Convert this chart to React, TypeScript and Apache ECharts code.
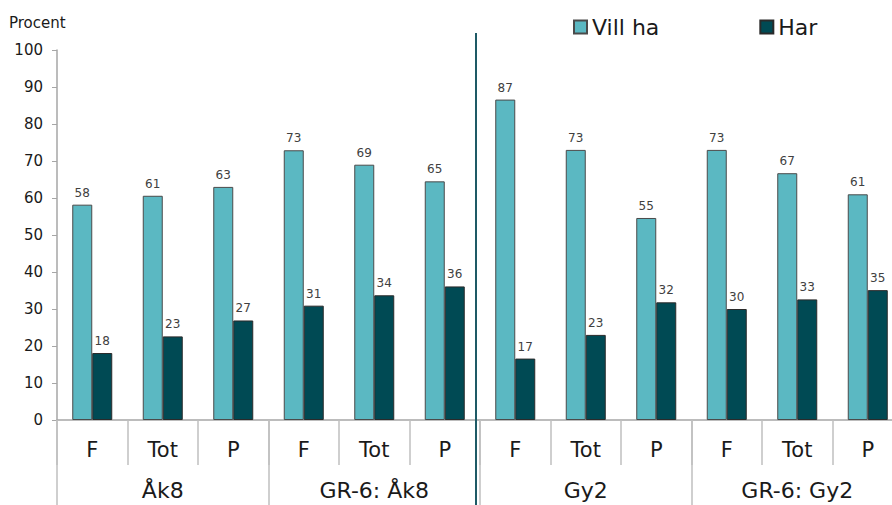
import React, { useEffect, useRef } from "react";
import * as echarts from "echarts";

const categories = ["F", "Tot", "P", "F", "Tot", "P", "F", "Tot", "P", "F", "Tot", "P"];
const groups = ["Åk8", "GR-6: Åk8", "Gy2", "GR-6: Gy2"];
const villHa = [58.2, 60.6, 63, 72.9, 69, 64.5, 86.6, 73, 54.6, 73, 66.7, 61];
const har = [18.1, 22.6, 26.9, 30.9, 33.7, 36.1, 16.6, 23, 31.8, 30, 32.6, 35.1];
const seriesNames = ["Vill ha", "Har"];
const yTicks = { min: 0, max: 100, interval: 10 };

const FONT = "'DejaVu Sans', Verdana, sans-serif";

export default function App() {
  const ref = useRef<HTMLDivElement>(null);
  useEffect(() => {
    if (!ref.current) return;
    const chart = echarts.init(ref.current, undefined, { renderer: "svg" });
    const labelStyle = {
      show: true,
      position: "top" as const,
      fontSize: 12,
      color: "#404040",
      fontFamily: FONT,
      distance: 6,
      formatter: (p: any) => Math.round(p.value).toString(),
    };
    chart.setOption({
      animation: false,
      textStyle: { fontFamily: FONT },
      title: {
        text: "Procent",
        left: 9,
        top: 15,
        padding: 0,
        textStyle: { fontSize: 15, fontWeight: "normal", color: "#1a1a1a", fontFamily: FONT },
      },
      legend: {
        data: seriesNames,
        left: 568,
        top: 11,
        itemWidth: 13,
        itemHeight: 13,
        itemGap: 100,
        icon: "rect",
        textStyle: { fontSize: 22, color: "#1a1a1a", fontFamily: FONT },
      },
      grid: { left: 57, top: 50, bottom: 85, right: 0, containLabel: false },
      xAxis: [
        {
          type: "category",
          data: categories,
          position: "bottom",
          axisLine: { show: true, lineStyle: { color: "#A6A6A6", width: 1.5 } },
          axisTick: { show: true, length: 45, interval: 0, lineStyle: { color: "#BFBFBF", width: 1.5 } },
          axisLabel: { interval: 0, margin: 19, fontSize: 21, color: "#1a1a1a", fontFamily: FONT },
        },
        {
          type: "category",
          data: groups,
          position: "bottom",
          axisLine: { show: false },
          axisTick: { show: true, length: 85, interval: 0, lineStyle: { color: "#BFBFBF", width: 1.5 } },
          axisLabel: { interval: 0, margin: 59, fontSize: 22, color: "#1a1a1a", fontFamily: FONT },
        },
      ],
      yAxis: {
        type: "value",
        min: yTicks.min,
        max: yTicks.max,
        interval: yTicks.interval,
        axisLine: { show: true, lineStyle: { color: "#A6A6A6", width: 1.5 } },
        axisTick: { show: true, length: 5, lineStyle: { color: "#A6A6A6" } },
        splitLine: { show: false },
        axisLabel: { fontSize: 15, color: "#1a1a1a", margin: 14, fontFamily: FONT },
      },
      series: [
        {
          name: seriesNames[0],
          type: "bar",
          data: villHa,
          barWidth: 20,
          barGap: "0%",
          itemStyle: { color: "#5BB8C2", borderColor: "#4a4a4a", borderWidth: 1 },
          label: labelStyle,
        },
        {
          name: seriesNames[1],
          type: "bar",
          data: har,
          barWidth: 20,
          barGap: "0%",
          itemStyle: { color: "#004A54", borderColor: "#2a2a2a", borderWidth: 1 },
          label: labelStyle,
        },
      ],
    });
    const x5 = chart.convertToPixel({ xAxisIndex: 0 }, 5) as number;
    const x6 = chart.convertToPixel({ xAxisIndex: 0 }, 6) as number;
    const yTop = chart.convertToPixel({ yAxisIndex: 0 }, yTicks.max) as number;
    const xd = (x5 + x6) / 2 - 4;
    chart.setOption({
      graphic: [
        {
          type: "line",
          shape: { x1: xd, y1: yTop - 17, x2: xd, y2: 505 },
          style: { stroke: "#1E5A66", lineWidth: 2 },
          z: 10,
        },
      ],
    });
    return () => chart.dispose();
  }, []);
  return (
    <div style={{ width: 892, height: 505, position: "absolute", left: 0, top: 0, overflow: "hidden" }}>
      <div ref={ref} style={{ width: 903, height: 505 }} />
    </div>
  );
}
